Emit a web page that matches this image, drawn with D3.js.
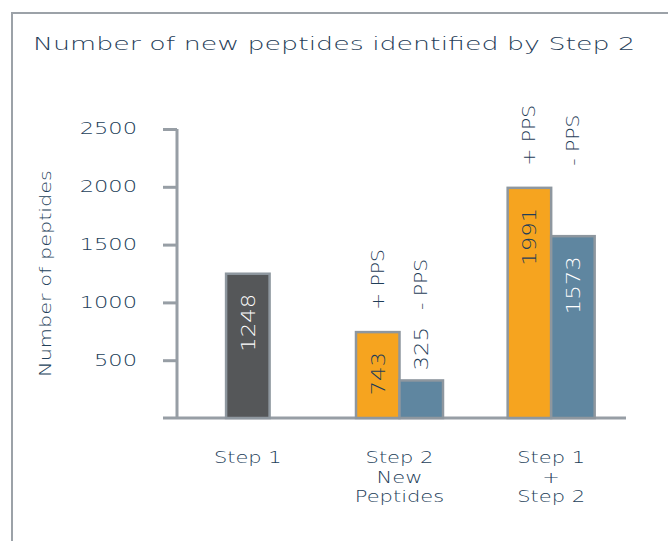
<!DOCTYPE html>
<html>
<head>
<meta charset="utf-8">
<script src="https://cdn.jsdelivr.net/npm/d3@7"></script>
<style>
  body { margin: 0; background: #fff; }
  text { font-family: "DejaVu Sans", sans-serif; font-weight: 200; }
</style>
</head>
<body>
<script>
// chart data
var categories = ["Step 1", "Step 2 New Peptides", "Step 1 + Step 2"];
var categoryLines = [["Step 1"], ["Step 2", "New", "Peptides"], ["Step 1", "+", "Step 2"]];
var seriesNames = ["Step 1", "+ PPS", "- PPS"];
var step1Values = [1248, null, null];
var plusPPSValues = [null, 743, 1991];
var minusPPSValues = [null, 325, 1573];
var yTicks = [500, 1000, 1500, 2000, 2500];

var width = 668, height = 541;
var colors = {"Step 1": "#555759", "+ PPS": "#f6a41f", "- PPS": "#5f86a0"};
var labelColors = {"Step 1": "#ffffff", "+ PPS": "#1f3d58", "- PPS": "#ffffff"};
var textColor = "#234059", gridGray = "#979ea5";

var svg = d3.select("body").append("svg")
    .attr("width", width)
    .attr("height", height);

// stretch glyphs to imitate the extended face of the original
function widen(sel, k) {
  sel.each(function() {
    var len = this.getComputedTextLength();
    d3.select(this).attr("textLength", len * k).attr("lengthAdjust", "spacingAndGlyphs");
  });
}

// frame
svg.append("rect")
    .attr("x", 12).attr("y", 13)
    .attr("width", 700).attr("height", 600)
    .attr("fill", "none")
    .attr("stroke", "#9ca2a8")
    .attr("stroke-width", 2);

svg.append("text")
    .attr("x", 33).attr("y", 50)
    .attr("fill", "#1f3d58")
    .style("font-size", "18px")
    .style("font-weight", 300)
    .text("Number of new peptides identified by Step 2")
    .call(widen, 1.49);

var x = d3.scaleBand().domain(categories).range([172, 627]);
var y = d3.scaleLinear().domain([0, 2500]).range([418, 129]);
var barW = 43.5;

// axes
var yAxis = svg.append("g")
    .attr("transform", "translate(177,0)")
    .call(d3.axisLeft(y).tickValues(yTicks).tickFormat(d3.format("d"))
      .tickSize(14).tickSizeOuter(0).tickPadding(26));
yAxis.select(".domain").attr("stroke", gridGray).attr("stroke-width", 3)
    .attr("d", "M0," + y(2500) + "V" + y(0));
yAxis.selectAll(".tick line").attr("stroke", gridGray).attr("stroke-width", 3);
yAxis.selectAll(".tick text")
    .attr("fill", textColor)
    .style("font-size", "15px")
    .style("font-family", "DejaVu Sans")
    .style("font-weight", 300)
    .call(widen, 1.5);

svg.append("line")
    .attr("x1", 163).attr("x2", x.range()[1] - 1)
    .attr("y1", y(0)).attr("y2", y(0))
    .attr("stroke", gridGray).attr("stroke-width", 3);

svg.append("text")
    .attr("transform", "translate(45," + y(1250) + ") rotate(-90)")
    .attr("text-anchor", "middle")
    .attr("dominant-baseline", "central")
    .attr("fill", textColor)
    .style("font-size", "16px")
    .text("Number of peptides")
    .call(widen, 1.3);

// category labels
categoryLines.forEach(function(lines, i) {
  var t = svg.append("text")
      .attr("text-anchor", "middle")
      .attr("fill", textColor)
      .style("font-size", "15px");
  lines.forEach(function(line, j) {
    t.append("tspan")
        .attr("x", x(categories[i]) + x.bandwidth() / 2)
        .attr("y", 463 + j * 19.5)
        .text(line);
  });
});
svg.selectAll("tspan").call(widen, 1.4);

// build bars
var bars = [];
categories.forEach(function(c, i) {
  var present = [];
  [step1Values, plusPPSValues, minusPPSValues].forEach(function(arr, s) {
    if (arr[i] != null) present.push({cat: c, series: seriesNames[s], value: arr[i]});
  });
  var start = x(c) + x.bandwidth() / 2 - present.length * barW / 2;
  present.forEach(function(d, k) {
    d.x = start + k * barW;
    d.groupTop = y(d3.max(present, function(p) { return p.value; }));
    d.paired = present.length > 1;
    bars.push(d);
  });
});

svg.selectAll(".bar")
  .data(bars)
  .enter().append("rect")
    .attr("class", "bar")
    .attr("x", function(d) { return d.x; })
    .attr("y", function(d) { return y(d.value); })
    .attr("width", barW)
    .attr("height", function(d) { return y(0) - y(d.value); })
    .attr("fill", function(d) { return colors[d.series]; })
    .attr("stroke", "#8e979f")
    .attr("stroke-width", 2.5);

// value labels
svg.selectAll(".val")
  .data(bars)
  .enter().append("text")
    .attr("class", "val")
    .attr("transform", function(d) {
      var inside = y(0) - y(d.value) > 60;
      var ty = inside ? y(d.value) + 20 : y(d.value) - 10;
      return "translate(" + (d.x + barW / 2) + "," + ty + ") rotate(-90)";
    })
    .attr("text-anchor", function(d) { return y(0) - y(d.value) > 60 ? "end" : "start"; })
    .attr("dominant-baseline", "central")
    .attr("fill", function(d) { return y(0) - y(d.value) > 60 ? labelColors[d.series] : "#1f3d58"; })
    .style("font-size", "19px")
    .style("font-weight", 300)
    .text(function(d) { return d.value; })
    .call(widen, 1.2);

// series labels above pairs
svg.selectAll(".ser")
  .data(bars.filter(function(d) { return d.paired; }))
  .enter().append("text")
    .attr("class", "ser")
    .attr("transform", function(d) {
      return "translate(" + (d.x + barW / 2) + "," + (d.groupTop - 22) + ") rotate(-90)";
    })
    .attr("dominant-baseline", "central")
    .attr("fill", "#1f3d58")
    .style("font-size", "17px")
    .style("font-weight", 300)
    .text(function(d) { return d.series; })
    .call(widen, 1.2);
</script>
</body>
</html>
